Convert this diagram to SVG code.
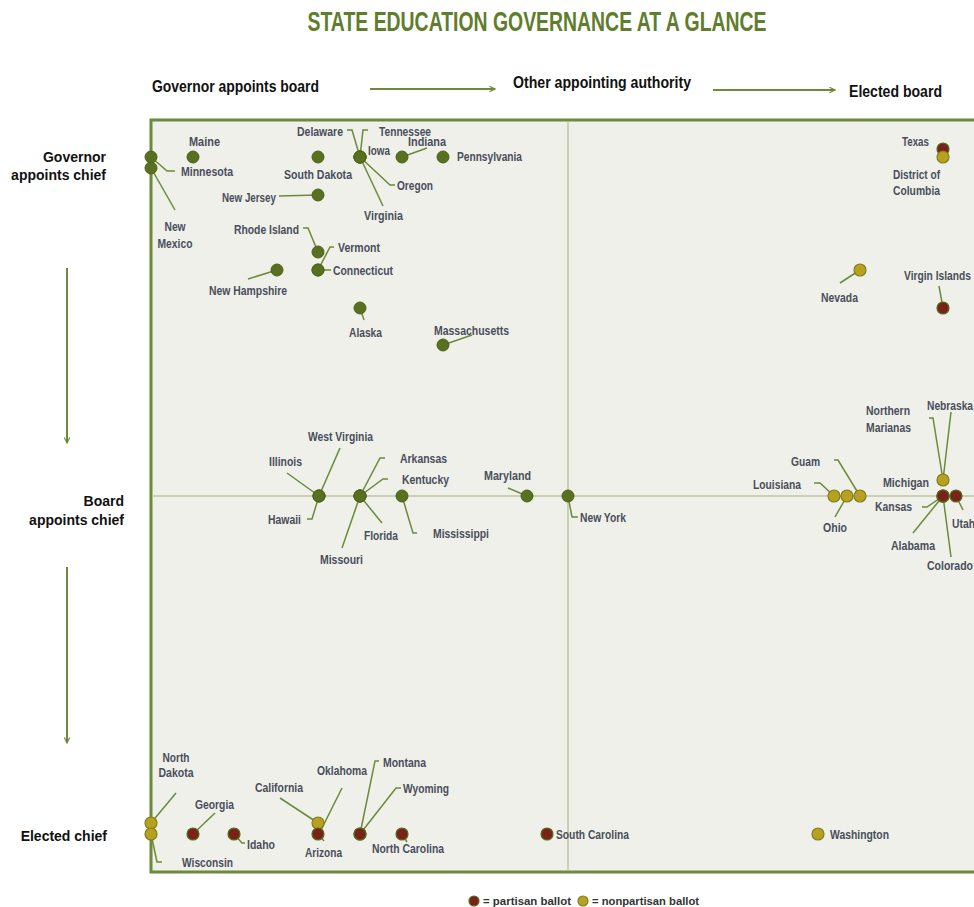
<svg xmlns="http://www.w3.org/2000/svg" width="974" height="907" viewBox="0 0 974 907">
<style>
.lbl{font-family:"Liberation Sans",Arial,sans-serif;font-weight:bold;font-size:12.5px;fill:#4a4e5c}
.ax{font-family:"Liberation Sans",Arial,sans-serif;font-weight:bold;font-size:16.5px;fill:#111}
.ay{font-family:"Liberation Sans",Arial,sans-serif;font-weight:bold;font-size:14px;fill:#111;text-anchor:end}
.title{font-family:"Liberation Sans",Arial,sans-serif;font-weight:bold;font-size:27px;fill:#5f7d2c;text-anchor:middle}
.leg{font-family:"Liberation Sans",Arial,sans-serif;font-weight:bold;font-size:11px;fill:#333}
.ld{fill:none;stroke:#6b8a3a;stroke-width:1.5}
.arr{fill:none;stroke:#6b8a3a;stroke-width:2}
.g{fill:#587020;stroke:#4c621a;stroke-width:1}
.r{fill:#7a2218;stroke:#556b1e;stroke-width:1.2}
.y{fill:#b8a11f;stroke:#7f7f1f;stroke-width:1.2}
.mid{text-anchor:middle}
</style>
<defs>
<marker id="ah" viewBox="0 0 10 10" refX="9" refY="5" markerWidth="7" markerHeight="7" orient="auto" markerUnits="userSpaceOnUse">
<path d="M1,1 L9,5 L1,9" fill="none" stroke="#6b8a3a" stroke-width="1.6"/>
</marker>
</defs>

<text class="title" x="537" y="31" textLength="459" lengthAdjust="spacingAndGlyphs">STATE EDUCATION GOVERNANCE AT A GLANCE</text>

<g id="axes">
<text class="ax" x="152" y="92" textLength="167" lengthAdjust="spacingAndGlyphs">Governor appoints board</text>
<text class="ax" x="513" y="88" textLength="178" lengthAdjust="spacingAndGlyphs">Other appointing authority</text>
<text class="ax" x="849" y="97" textLength="93" lengthAdjust="spacingAndGlyphs">Elected board</text>
<text class="ay" x="106" y="162">Governor</text>
<text class="ay" x="106" y="180">appoints chief</text>
<text class="ay" x="124" y="506">Board</text>
<text class="ay" x="124" y="525">appoints chief</text>
<text class="ay" x="107" y="841">Elected chief</text>
</g>

<g id="frame">
<rect x="151" y="120" width="840" height="752" fill="#eef0e9" stroke="#6b8a3a" stroke-width="3"/>
<line x1="568" y1="121.5" x2="568" y2="870.5" stroke="#c9d0b4" stroke-width="2"/>
<line x1="152.5" y1="496" x2="974" y2="496" stroke="#c9d0b4" stroke-width="2"/>
</g>

<g id="connectors">
<line class="arr" x1="370" y1="89" x2="495" y2="89" marker-end="url(#ah)"/>
<line class="arr" x1="713" y1="90" x2="835" y2="90" marker-end="url(#ah)"/>
<line class="arr" x1="67" y1="268" x2="67" y2="443" marker-end="url(#ah)"/>
<line class="arr" x1="67" y1="567" x2="67" y2="743" marker-end="url(#ah)"/>
<polyline class="ld" points="151,157 167,171 175,171"/>
<line class="ld" x1="151" y1="168" x2="175" y2="210"/>
<line class="ld" x1="279" y1="196" x2="318" y2="195"/>
<polyline class="ld" points="347,130 352,130 360,157"/>
<polyline class="ld" points="368,130 363,130 360,157"/>
<polyline class="ld" points="360,157 390,185 395,185"/>
<line class="ld" x1="360" y1="157" x2="383" y2="206"/>
<line class="ld" x1="402" y1="157" x2="427" y2="148"/>
<polyline class="ld" points="303,228 308,228 318,252"/>
<polyline class="ld" points="334,247 330,247 318,270"/>
<line class="ld" x1="318" y1="270" x2="331" y2="270"/>
<line class="ld" x1="248" y1="279" x2="277" y2="270"/>
<line class="ld" x1="360" y1="308" x2="364" y2="320"/>
<line class="ld" x1="443" y1="345" x2="472" y2="335"/>
<line class="ld" x1="840" y1="283" x2="860" y2="270"/>
<line class="ld" x1="939" y1="286" x2="943" y2="308"/>
<line class="ld" x1="340" y1="448" x2="319" y2="496"/>
<line class="ld" x1="287" y1="473" x2="319" y2="496"/>
<polyline class="ld" points="307,519 312,519 319,496"/>
<polyline class="ld" points="385,458 380,458 360,496"/>
<polyline class="ld" points="388,479 383,479 360,496"/>
<line class="ld" x1="360" y1="496" x2="382" y2="523"/>
<line class="ld" x1="360" y1="496" x2="342" y2="548"/>
<polyline class="ld" points="402,496 413,533 417,533"/>
<line class="ld" x1="508" y1="488" x2="527" y2="496"/>
<polyline class="ld" points="568,496 572,517 578,517"/>
<polyline class="ld" points="814,483 820,483 834,496"/>
<line class="ld" x1="835" y1="517" x2="847" y2="496"/>
<polyline class="ld" points="834,460 838,460 860,496"/>
<polyline class="ld" points="929,418 933,418 943,480"/>
<line class="ld" x1="951" y1="412" x2="943" y2="480"/>
<polyline class="ld" points="922,507 927,507 943,496"/>
<line class="ld" x1="913" y1="533" x2="943" y2="496"/>
<line class="ld" x1="951" y1="557" x2="943" y2="496"/>
<line class="ld" x1="956" y1="496" x2="963" y2="510"/>
<line class="ld" x1="176" y1="793" x2="151" y2="823"/>
<polyline class="ld" points="151,834 157,862 162,862"/>
<line class="ld" x1="215" y1="813" x2="193" y2="834"/>
<polyline class="ld" points="234,834 242,843 245,843"/>
<line class="ld" x1="280" y1="798" x2="318" y2="823"/>
<line class="ld" x1="342" y1="788" x2="320" y2="832"/>
<line class="ld" x1="318" y1="834" x2="324" y2="841"/>
<polyline class="ld" points="379,761 375,761 360,834"/>
<polyline class="ld" points="401,788 396,788 360,834"/>
<line class="ld" x1="402" y1="834" x2="407" y2="842"/>
</g>

<g id="minnesota"><circle class="g" cx="151" cy="157" r="6"/><text class="lbl" x="181" y="176" textLength="52" lengthAdjust="spacingAndGlyphs">Minnesota</text></g>
<g id="new-mexico"><circle class="g" cx="151" cy="168" r="6"/><text class="lbl mid" x="175" y="231" textLength="21" lengthAdjust="spacingAndGlyphs">New</text><text class="lbl mid" x="175" y="248" textLength="35" lengthAdjust="spacingAndGlyphs">Mexico</text></g>
<g id="maine"><circle class="g" cx="193" cy="157" r="6"/><text class="lbl" x="189" y="146" textLength="31" lengthAdjust="spacingAndGlyphs">Maine</text></g>
<g id="south-dakota"><circle class="g" cx="318" cy="157" r="6"/><text class="lbl mid" x="318" y="178.5" textLength="68" lengthAdjust="spacingAndGlyphs">South Dakota</text></g>
<g id="new-jersey"><circle class="g" cx="318" cy="195" r="6"/><text class="lbl" x="222" y="201.5" textLength="54" lengthAdjust="spacingAndGlyphs">New Jersey</text></g>
<g id="delaware"><circle class="g" cx="360" cy="157" r="6"/><text class="lbl" x="297" y="136" textLength="46" lengthAdjust="spacingAndGlyphs">Delaware</text></g>
<g id="tennessee"><circle class="g" cx="360" cy="157" r="6"/><text class="lbl" x="379" y="136" textLength="52" lengthAdjust="spacingAndGlyphs">Tennessee</text></g>
<g id="iowa"><circle class="g" cx="360" cy="157" r="6"/><text class="lbl" x="368" y="155" textLength="22" lengthAdjust="spacingAndGlyphs">Iowa</text></g>
<g id="oregon"><circle class="g" cx="360" cy="157" r="6"/><text class="lbl" x="397" y="190" textLength="36" lengthAdjust="spacingAndGlyphs">Oregon</text></g>
<g id="virginia"><circle class="g" cx="360" cy="157" r="6"/><text class="lbl" x="364" y="220" textLength="39" lengthAdjust="spacingAndGlyphs">Virginia</text></g>
<g id="indiana"><circle class="g" cx="402" cy="157" r="6"/><text class="lbl" x="408" y="146" textLength="38" lengthAdjust="spacingAndGlyphs">Indiana</text></g>
<g id="pennsylvania"><circle class="g" cx="443" cy="157" r="6"/><text class="lbl" x="457" y="161" textLength="65" lengthAdjust="spacingAndGlyphs">Pennsylvania</text></g>
<g id="rhode-island"><circle class="g" cx="318" cy="252" r="6"/><text class="lbl" x="234" y="233.5" textLength="65" lengthAdjust="spacingAndGlyphs">Rhode Island</text></g>
<g id="vermont"><circle class="g" cx="318" cy="270" r="6"/><text class="lbl" x="338" y="252" textLength="42" lengthAdjust="spacingAndGlyphs">Vermont</text></g>
<g id="connecticut"><circle class="g" cx="318" cy="270" r="6"/><text class="lbl" x="333" y="275" textLength="60" lengthAdjust="spacingAndGlyphs">Connecticut</text></g>
<g id="new-hampshire"><circle class="g" cx="277" cy="270" r="6"/><text class="lbl" x="209" y="294.5" textLength="78" lengthAdjust="spacingAndGlyphs">New Hampshire</text></g>
<g id="alaska"><circle class="g" cx="360" cy="308" r="6"/><text class="lbl" x="349" y="337" textLength="33" lengthAdjust="spacingAndGlyphs">Alaska</text></g>
<g id="massachusetts"><circle class="g" cx="443" cy="345" r="6"/><text class="lbl" x="434" y="334.5" textLength="75" lengthAdjust="spacingAndGlyphs">Massachusetts</text></g>

<g id="texas"><circle class="r" cx="943" cy="149" r="6"/><text class="lbl" x="902" y="146" textLength="27" lengthAdjust="spacingAndGlyphs">Texas</text></g>
<g id="district-of-columbia"><circle class="y" cx="943" cy="157" r="6"/><text class="lbl" x="893" y="178.5" textLength="47" lengthAdjust="spacingAndGlyphs">District of</text><text class="lbl" x="893" y="194.5" textLength="47" lengthAdjust="spacingAndGlyphs">Columbia</text></g>
<g id="nevada"><circle class="y" cx="860" cy="270" r="6"/><text class="lbl" x="821" y="302" textLength="37" lengthAdjust="spacingAndGlyphs">Nevada</text></g>
<g id="virgin-islands"><circle class="r" cx="943" cy="308" r="6"/><text class="lbl" x="904" y="280" textLength="67" lengthAdjust="spacingAndGlyphs">Virgin Islands</text></g>

<g id="west-virginia"><circle class="g" cx="319" cy="496" r="6"/><text class="lbl" x="308" y="441" textLength="65" lengthAdjust="spacingAndGlyphs">West Virginia</text></g>
<g id="illinois"><circle class="g" cx="319" cy="496" r="6"/><text class="lbl" x="269" y="466" textLength="33" lengthAdjust="spacingAndGlyphs">Illinois</text></g>
<g id="hawaii"><circle class="g" cx="319" cy="496" r="6"/><text class="lbl" x="268" y="523.5" textLength="33" lengthAdjust="spacingAndGlyphs">Hawaii</text></g>
<g id="arkansas"><circle class="g" cx="360" cy="496" r="6"/><text class="lbl" x="400" y="463" textLength="47" lengthAdjust="spacingAndGlyphs">Arkansas</text></g>
<g id="kentucky"><circle class="g" cx="360" cy="496" r="6"/><text class="lbl" x="402" y="484" textLength="47" lengthAdjust="spacingAndGlyphs">Kentucky</text></g>
<g id="florida"><circle class="g" cx="360" cy="496" r="6"/><text class="lbl" x="364" y="539.5" textLength="34" lengthAdjust="spacingAndGlyphs">Florida</text></g>
<g id="missouri"><circle class="g" cx="360" cy="496" r="6"/><text class="lbl" x="320" y="564" textLength="43" lengthAdjust="spacingAndGlyphs">Missouri</text></g>
<g id="mississippi"><circle class="g" cx="402" cy="496" r="6"/><text class="lbl" x="433" y="538" textLength="56" lengthAdjust="spacingAndGlyphs">Mississippi</text></g>
<g id="maryland"><circle class="g" cx="527" cy="496" r="6"/><text class="lbl" x="484" y="479.5" textLength="47" lengthAdjust="spacingAndGlyphs">Maryland</text></g>
<g id="new-york"><circle class="g" cx="568" cy="496" r="6"/><text class="lbl" x="580" y="522" textLength="46" lengthAdjust="spacingAndGlyphs">New York</text></g>
<g id="louisiana"><circle class="y" cx="834" cy="496" r="6"/><text class="lbl" x="753" y="489" textLength="48" lengthAdjust="spacingAndGlyphs">Louisiana</text></g>
<g id="ohio"><circle class="y" cx="847" cy="496" r="6"/><text class="lbl" x="823" y="532" textLength="24" lengthAdjust="spacingAndGlyphs">Ohio</text></g>
<g id="guam"><circle class="y" cx="860" cy="496" r="6"/><text class="lbl" x="791" y="465.5" textLength="29" lengthAdjust="spacingAndGlyphs">Guam</text></g>
<g id="kansas"><circle class="r" cx="943" cy="496" r="6"/><text class="lbl" x="875" y="511" textLength="37" lengthAdjust="spacingAndGlyphs">Kansas</text></g>
<g id="alabama"><circle class="r" cx="943" cy="496" r="6"/><text class="lbl" x="891" y="549.5" textLength="44" lengthAdjust="spacingAndGlyphs">Alabama</text></g>
<g id="colorado"><circle class="r" cx="943" cy="496" r="6"/><text class="lbl" x="927" y="569.5" textLength="46" lengthAdjust="spacingAndGlyphs">Colorado</text></g>
<g id="utah"><circle class="r" cx="956" cy="496" r="6"/><text class="lbl" x="952" y="528" textLength="23" lengthAdjust="spacingAndGlyphs">Utah</text></g>
<g id="michigan"><circle class="y" cx="943" cy="480" r="6"/><text class="lbl" x="883" y="487" textLength="46" lengthAdjust="spacingAndGlyphs">Michigan</text></g>
<g id="northern-marianas"><text class="lbl" x="866" y="415" textLength="44" lengthAdjust="spacingAndGlyphs">Northern</text><text class="lbl" x="866" y="431.5" textLength="45" lengthAdjust="spacingAndGlyphs">Marianas</text></g>
<g id="nebraska"><text class="lbl" x="927" y="409.5" textLength="46" lengthAdjust="spacingAndGlyphs">Nebraska</text></g>

<g id="north-dakota"><circle class="y" cx="151" cy="823" r="6"/><text class="lbl mid" x="176" y="762" textLength="27" lengthAdjust="spacingAndGlyphs">North</text><text class="lbl mid" x="176" y="777" textLength="35" lengthAdjust="spacingAndGlyphs">Dakota</text></g>
<g id="wisconsin"><circle class="y" cx="151" cy="834" r="6"/><text class="lbl" x="182" y="866.5" textLength="51" lengthAdjust="spacingAndGlyphs">Wisconsin</text></g>
<g id="georgia"><circle class="r" cx="193" cy="834" r="6"/><text class="lbl" x="195" y="808.5" textLength="39" lengthAdjust="spacingAndGlyphs">Georgia</text></g>
<g id="idaho"><circle class="r" cx="234" cy="834" r="6"/><text class="lbl" x="247" y="848.5" textLength="28" lengthAdjust="spacingAndGlyphs">Idaho</text></g>
<g id="california"><circle class="y" cx="318" cy="823" r="6"/><text class="lbl" x="255" y="791.5" textLength="48" lengthAdjust="spacingAndGlyphs">California</text></g>
<g id="oklahoma"><text class="lbl" x="317" y="774.5" textLength="50" lengthAdjust="spacingAndGlyphs">Oklahoma</text></g>
<g id="arizona"><circle class="r" cx="318" cy="834" r="6"/><text class="lbl" x="305" y="856.5" textLength="37" lengthAdjust="spacingAndGlyphs">Arizona</text></g>
<g id="montana"><circle class="r" cx="360" cy="834" r="6"/><text class="lbl" x="383" y="766.5" textLength="43" lengthAdjust="spacingAndGlyphs">Montana</text></g>
<g id="wyoming"><circle class="r" cx="360" cy="834" r="6"/><text class="lbl" x="403" y="793" textLength="46" lengthAdjust="spacingAndGlyphs">Wyoming</text></g>
<g id="north-carolina"><circle class="r" cx="402" cy="834" r="6"/><text class="lbl" x="372" y="853" textLength="72" lengthAdjust="spacingAndGlyphs">North Carolina</text></g>
<g id="south-carolina"><circle class="r" cx="547" cy="834" r="6"/><text class="lbl" x="556" y="838.5" textLength="73" lengthAdjust="spacingAndGlyphs">South Carolina</text></g>
<g id="washington"><circle class="y" cx="818" cy="834" r="6"/><text class="lbl" x="830" y="838.5" textLength="59" lengthAdjust="spacingAndGlyphs">Washington</text></g>

<g id="legend">
<circle class="r" cx="474" cy="901" r="5"/><text class="leg" x="483" y="905" textLength="88" lengthAdjust="spacingAndGlyphs">= partisan ballot</text>
<circle class="y" cx="583" cy="901" r="5"/><text class="leg" x="592" y="905" textLength="107" lengthAdjust="spacingAndGlyphs">= nonpartisan ballot</text>
</g>
</svg>
